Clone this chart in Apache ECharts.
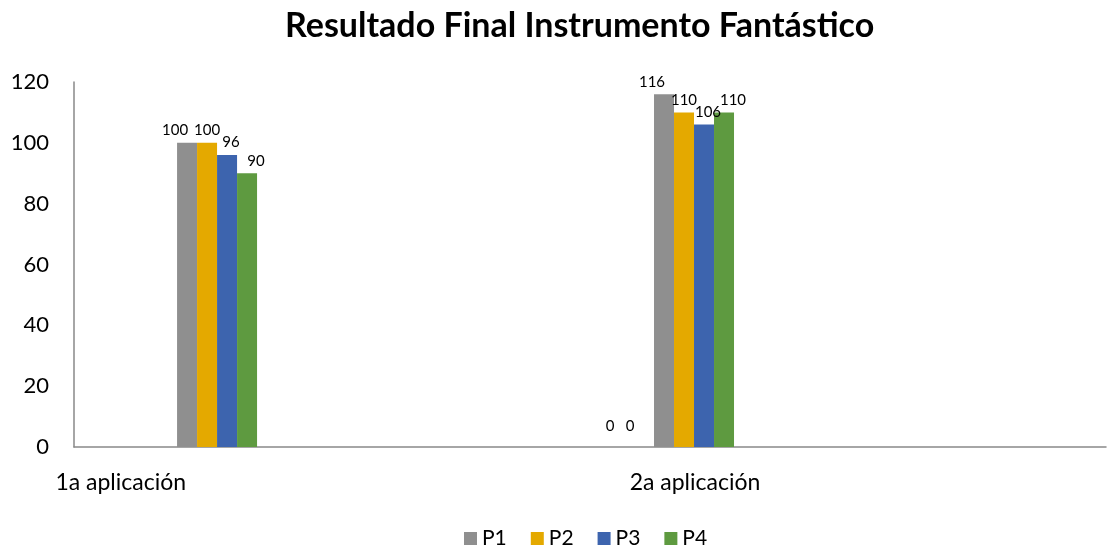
<!DOCTYPE html>
<html>
<head>
<meta charset="utf-8">
<script src="https://cdn.jsdelivr.net/npm/echarts@6/dist/echarts.min.js"></script>
<style>
  html, body { margin: 0; padding: 0; background: #fff; }
  #chart { width: 1107px; height: 548px; }
</style>
</head>
<body>
<div id="chart"></div>
<script>
// ---- data ----
const title = 'Resultado Final Instrumento Fantástico';
const categories = ['1a aplicación', '2a aplicación'];
const seriesNames = ['P1', 'P2', 'P3', 'P4'];
const P1 = [100, 116];
const P2 = [100, 110];
const P3 = [96, 106];
const P4 = [90, 110];
const zeroA = [null, 0];
const zeroB = [null, 0];
const yTicks = [0, 20, 40, 60, 80, 100, 120];

// ---- styling ----
const colors = { P1: '#8f8f8f', P2: '#e4a900', P3: '#3d64ae', P4: '#5e9a40' };
const labelShift = { P1: -12, P2: 0, P3: 4, P4: 9 };
const FONT = 'Lato, "Noto Sans", sans-serif';
const catLabelPos = [-0.16, 1.044];

function toPoints(arr) {
  const out = [];
  arr.forEach((v, i) => { if (v !== null) out.push([i, v]); });
  return out;
}

const labelStyle = { show: true, position: 'top', distance: 5, color: '#000', fontSize: 15, fontFamily: FONT };

const series = [];
[zeroA, zeroB].forEach((arr, k) => {
  series.push({
    name: 'z' + k, type: 'bar', barWidth: 20, barGap: '0%',
    data: toPoints(arr),
    itemStyle: { color: '#ffffff' },
    label: Object.assign({}, labelStyle, { offset: [-14, -8] })
  });
});
const valuesBySeries = { P1, P2, P3, P4 };
seriesNames.forEach(n => {
  series.push({
    name: n, type: 'bar', barWidth: 20, barGap: '0%',
    data: toPoints(valuesBySeries[n]),
    itemStyle: { color: colors[n] },
    label: Object.assign({}, labelStyle, { offset: [labelShift[n], 0] })
  });
});

function catName(v) {
  const i = catLabelPos.findIndex(p => Math.abs(p - v) < 1e-6);
  return i >= 0 ? categories[i] : '';
}

const chart = echarts.init(document.getElementById('chart'), null, { renderer: 'canvas' });
chart.setOption({
  animation: false,
  backgroundColor: '#ffffff',
  title: {
    text: title, left: 280, top: 4,
    textStyle: { fontFamily: FONT, fontWeight: 'bold', fontSize: 34, color: '#000' }
  },
  legend: {
    data: seriesNames, top: 528, left: 464, padding: 0,
    itemWidth: 13, itemHeight: 13, itemGap: 24, icon: 'rect',
    textStyle: { fontFamily: FONT, fontSize: 21, color: '#000' }
  },
  grid: { left: 74, right: 1, top: 82, bottom: 101, containLabel: false },
  xAxis: {
    type: 'value', min: -0.258, max: 1.9057,
    splitLine: { show: false },
    axisTick: { show: false },
    axisLine: { show: true, onZero: false, lineStyle: { color: '#898989', width: 1.5 } },
    axisLabel: {
      show: true,
      customValues: catLabelPos,
      formatter: catName,
      margin: 24, fontFamily: FONT, fontSize: 23, color: '#000'
    }
  },
  yAxis: {
    type: 'value', min: yTicks[0], max: yTicks[yTicks.length - 1], interval: 20,
    splitLine: { show: false },
    axisTick: { show: false },
    axisLine: { show: true, onZero: false, lineStyle: { color: '#898989', width: 1.5 } },
    axisLabel: { margin: 25, fontFamily: FONT, fontSize: 22, color: '#000' }
  },
  series: series
});
</script>
</body>
</html>
